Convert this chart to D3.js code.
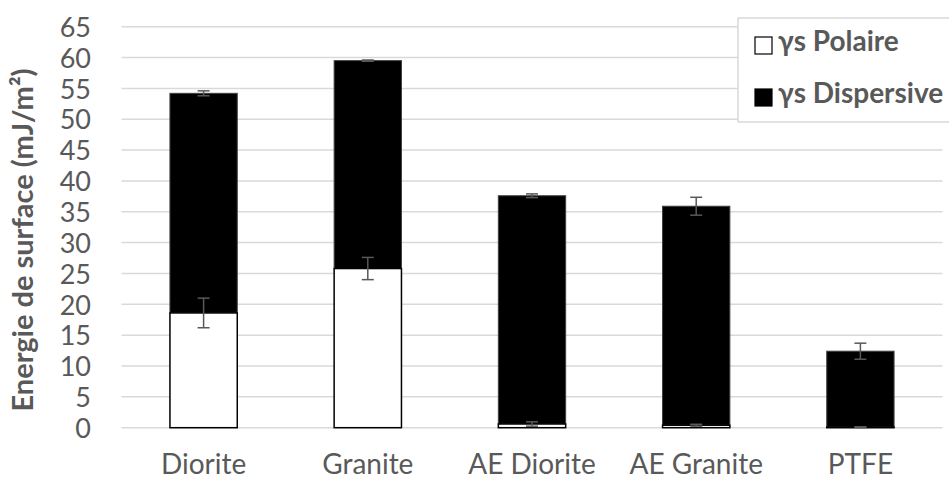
<!DOCTYPE html>
<html><head><meta charset="utf-8">
<script src="https://cdn.jsdelivr.net/npm/d3@7"></script>
<style>body{margin:0;background:#fff}svg{display:block}</style>
</head><body>
<svg id="c" width="949" height="480"></svg>
<script>
const categories = ["Diorite","Granite","AE Diorite","AE Granite","PTFE"];
const polaire = [18.6, 25.8, 0.6, 0.4, 0.1];
const dispersive = [35.6, 33.7, 37.0, 35.5, 12.3];
const errPolaire = [2.4, 1.8, 0.35, 0.15, 0.05];
const errDispersive = [0.4, 0.1, 0.3, 1.45, 1.3];
const yTicks = d3.range(0, 66, 5);
const seriesNames = ["γs Polaire", "γs Dispersive"];

const svg = d3.select("#c");
const font = "Lato, 'Open Sans', sans-serif";
const grey = "#595959";
const x = d3.scaleBand().domain(categories).range([121.5, 942.5]).paddingInner(0.59).paddingOuter(0.295);
const y = d3.scaleLinear().domain([0, 65]).range([427.7, 26.7]);

// gridlines
svg.append("g").selectAll("line").data(yTicks).join("line")
  .attr("x1", 121.5).attr("x2", 942.5)
  .attr("y1", d => y(d)).attr("y2", d => y(d))
  .attr("stroke", "#d9d9d9").attr("stroke-width", 1.5);

// y axis labels
const yAxis = d3.axisLeft(y).tickValues(yTicks).tickSize(0).tickPadding(0);
const ga = svg.append("g").attr("transform", "translate(91,0)").call(yAxis);
ga.select(".domain").remove();
ga.selectAll("text").attr("font-family", font).attr("font-size", 27).attr("fill", grey).attr("dy", "0.36em");

// x axis labels
const xAxis = d3.axisBottom(x).tickSize(0).tickPadding(0);
const gx = svg.append("g").attr("transform", "translate(0,474)").call(xAxis);
gx.select(".domain").remove();
gx.selectAll("text").attr("font-family", font).attr("font-size", 28).attr("fill", grey).attr("dy", 0);

// bars
const data = categories.map((c, i) => ({c, p: polaire[i], d: dispersive[i], ep: errPolaire[i], ed: errDispersive[i]}));
const bw = x.bandwidth();
svg.append("g").selectAll("rect").data(data).join("rect")
  .attr("x", d => x(d.c)).attr("width", bw)
  .attr("y", d => y(d.p + d.d)).attr("height", d => y(d.p) - y(d.p + d.d))
  .attr("fill", "#000").attr("stroke", "#404040").attr("stroke-width", 1);
svg.append("g").selectAll("rect").data(data).join("rect")
  .attr("x", d => x(d.c)).attr("width", bw)
  .attr("y", d => y(d.p)).attr("height", d => y(0) - y(d.p))
  .attr("fill", "#fff").attr("stroke", "#000").attr("stroke-width", 1.5);

// error bars
function errBars(getV, getE) {
  const g = svg.append("g").attr("stroke", grey).attr("stroke-width", 1.5);
  data.forEach(d => {
    const cx = x(d.c) + bw / 2, v = getV(d), e = getE(d);
    g.append("line").attr("x1", cx).attr("x2", cx).attr("y1", y(v - e)).attr("y2", y(v + e));
    g.append("line").attr("x1", cx - 6).attr("x2", cx + 6).attr("y1", y(v - e)).attr("y2", y(v - e));
    g.append("line").attr("x1", cx - 6).attr("x2", cx + 6).attr("y1", y(v + e)).attr("y2", y(v + e));
  });
}
errBars(d => d.p, d => d.ep);
errBars(d => d.p + d.d, d => d.ed);

// y title
svg.append("text").attr("transform", "translate(33,240) rotate(-90)")
  .attr("text-anchor", "middle").attr("font-family", font).attr("font-weight", "bold")
  .attr("font-size", 29).attr("fill", grey).text("Energie de surface (mJ/m²)");

// legend
svg.append("rect").attr("x", 738).attr("y", 18).attr("width", 230).attr("height", 104)
  .attr("fill", "#fff").attr("stroke", "#d9d9d9").attr("stroke-width", 1.5);
const lg = svg.append("g").selectAll("g").data(seriesNames).join("g")
  .attr("transform", (d, i) => `translate(0,${i * 52})`);
lg.append("rect").attr("x", 755).attr("y", 37).attr("width", 17).attr("height", 17)
  .attr("fill", (d, i) => i === 0 ? "#fff" : "#000").attr("stroke", "#000").attr("stroke-width", 1.2);
lg.append("text").attr("x", 778).attr("y", 51).attr("font-family", font).attr("font-weight", "bold")
  .attr("font-size", 28).attr("fill", grey).text(d => d);
</script>
</body></html>
